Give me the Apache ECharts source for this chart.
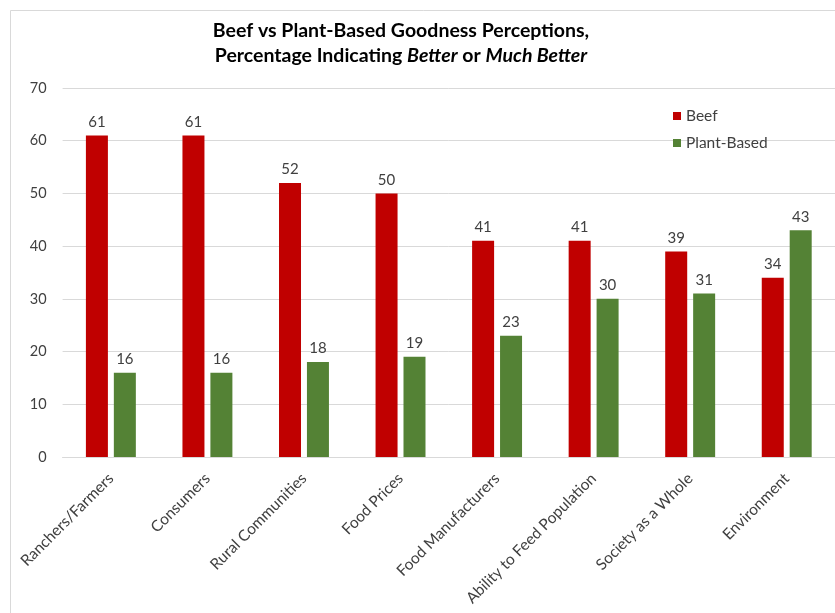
<!DOCTYPE html>
<html>
<head>
<meta charset="utf-8">
<style>
  html, body { margin: 0; padding: 0; background: #ffffff; }
  #chart { width: 835px; height: 613px; }
</style>
<script src="https://cdn.jsdelivr.net/npm/echarts@6/dist/echarts.min.js"></script>
</head>
<body>
<div id="chart"></div>
<script>
// Categories and survey results (% answering Better or Much Better)
const categories = [
  'Ranchers/Farmers', 'Consumers', 'Rural Communities', 'Food Prices',
  'Food Manufacturers', 'Ability to Feed Population', 'Society as a Whole', 'Environment'
];
const beefValues = [61, 61, 52, 50, 41, 41, 39, 34];
const plantValues = [16, 16, 18, 19, 23, 30, 31, 43];
const seriesNames = ['Beef', 'Plant-Based'];
const yTicks = { min: 0, max: 70, interval: 10 };

const FONT = 'Lato, "Open Sans", sans-serif';
const TEXT = '#404040';

const chart = echarts.init(document.getElementById('chart'), null, { renderer: 'canvas' });

chart.setOption({
  backgroundColor: '#ffffff',
  animation: false,
  graphic: [{
    type: 'rect',
    left: 8, top: 8,
    shape: { width: 840, height: 603 },
    style: { fill: 'none', stroke: '#d9d9d9', lineWidth: 1 },
    silent: true
  }],
  title: {
    text: 'Beef vs Plant-Based Goodness Perceptions,\nPercentage Indicating {i|Better} or {i|Much Better}',
    left: 396,
    textAlign: 'center',
    top: 13,
    textStyle: {
      fontFamily: FONT, fontSize: 19.5, fontWeight: 'bold', color: '#000000',
      lineHeight: 25,
      rich: {
        i: { fontFamily: FONT, fontSize: 19.5, fontWeight: 'bold', fontStyle: 'italic', color: '#000000', lineHeight: 25 }
      }
    }
  },
  legend: {
    orient: 'vertical',
    left: 668, top: 103,
    itemWidth: 8, itemHeight: 8, itemGap: 11,
    icon: 'rect',
    textStyle: { fontFamily: FONT, fontSize: 15.5, color: TEXT },
    data: seriesNames
  },
  grid: { left: 62.6, right: -1, top: 88, bottom: 156, containLabel: false },
  xAxis: {
    type: 'category',
    data: categories,
    axisTick: { show: false },
    axisLine: { lineStyle: { color: '#d9d9d9' } },
    axisLabel: {
      rotate: 45, interval: 0, margin: 19,
      fontFamily: FONT, fontSize: 15.5, color: TEXT
    }
  },
  yAxis: {
    type: 'value',
    min: yTicks.min, max: yTicks.max, interval: yTicks.interval,
    axisLine: { show: false },
    axisTick: { show: false },
    splitLine: { lineStyle: { color: '#d9d9d9', width: 1 } },
    axisLabel: { margin: 16, fontFamily: FONT, fontSize: 14.5, color: TEXT }
  },
  series: [
    {
      name: seriesNames[0], type: 'bar', data: beefValues,
      itemStyle: { color: '#c00000' },
      barWidth: 22, barGap: '27%',
      label: { show: true, position: 'top', distance: 6, fontFamily: FONT, fontSize: 15, color: TEXT }
    },
    {
      name: seriesNames[1], type: 'bar', data: plantValues,
      itemStyle: { color: '#548235' },
      barWidth: 22, barGap: '27%',
      label: { show: true, position: 'top', distance: 6, fontFamily: FONT, fontSize: 15, color: TEXT }
    }
  ]
});
</script>
</body>
</html>
